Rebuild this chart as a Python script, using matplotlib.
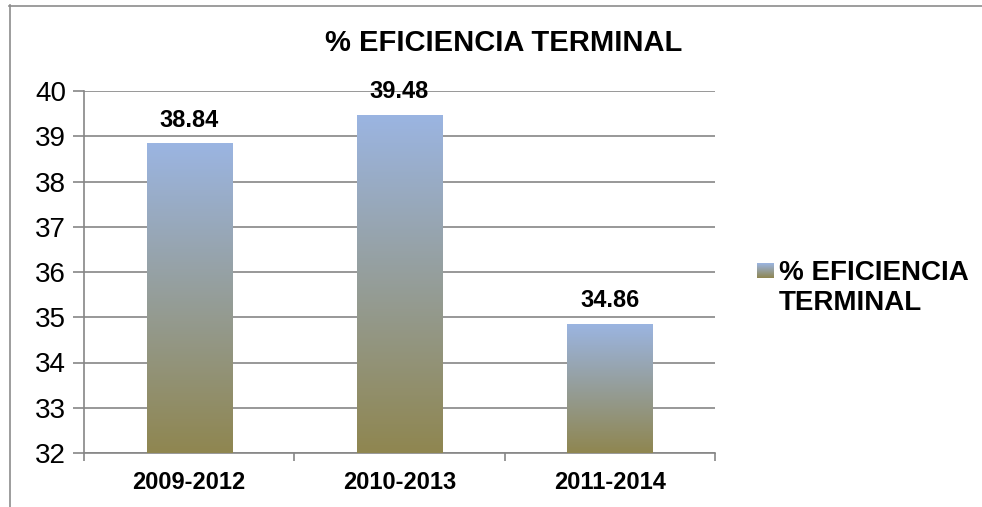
import numpy as np
import matplotlib
matplotlib.use('Agg')
from matplotlib import pyplot as plt
from matplotlib.colors import LinearSegmentedColormap

periodos = ['2009-2012', '2010-2013', '2011-2014']
eficiencia = [38.84, 39.48, 34.86]
serie = '% EFICIENCIA TERMINAL'
y_ticks = [32, 33, 34, 35, 36, 37, 38, 39, 40]

plt.rcParams['font.family'] = ['Liberation Sans', 'DejaVu Sans']

fig = plt.figure(figsize=(9.82, 5.07), dpi=100)
ax = fig.add_axes([84 / 982, 54 / 507, (715 - 84) / 982, (453 - 91) / 507])

# degradado azul arriba, oliva abajo
cmap = LinearSegmentedColormap.from_list('grad', ['#8f8650', '#9bb5e2'])
grad = np.linspace(0, 1, 256).reshape(-1, 1)

x = np.arange(len(periodos))
bars = ax.bar(x, [v - 32 for v in eficiencia], bottom=32, width=0.405,
              color='none', edgecolor='none', zorder=3)
for b, v in zip(bars, eficiencia):
    x0 = b.get_x()
    x1 = x0 + b.get_width()
    im = ax.imshow(grad, cmap=cmap, aspect='auto', origin='lower',
                   extent=[x0, x1, 32, v], zorder=3)
    im.set_clip_path(b)
    ax.annotate(f'{v:.2f}', (b.get_x() + b.get_width() / 2, v),
                xytext=(0, 8), textcoords='offset points', ha='center',
                va='bottom', fontsize=17, fontweight='bold', zorder=5)

ax.set_xlim(-0.5, 2.5)
ax.set_ylim(32, 40)
ax.set_yticks(y_ticks)
ax.set_yticklabels([str(t) for t in y_ticks], fontsize=20)
ax.set_xticks(x)
ax.set_xticklabels(periodos, fontsize=17, fontweight='bold')
ax.set_xticks([-0.5, 0.5, 1.5, 2.5], minor=True)
ax.tick_params(axis='x', which='major', length=0, pad=13)
ax.tick_params(axis='x', which='minor', length=6, color='#868686', width=1.2)
ax.tick_params(axis='y', length=8, color='#868686', width=1.2, pad=5)
ax.grid(axis='y', color='#868686', linewidth=1.2, zorder=0)
ax.set_axisbelow(True)
for s in ['top', 'right']:
    ax.spines[s].set_visible(False)
for s in ['left', 'bottom']:
    ax.spines[s].set_color('#868686')
    ax.spines[s].set_linewidth(1.2)

fig.text(504 / 982, 1 - 43 / 507, serie, ha='center', va='center',
         fontsize=21, fontweight='bold')

# leyenda
leg_ax = fig.add_axes([757 / 982, 1 - 278 / 507, 17 / 982, 15 / 507])
leg_ax.imshow(grad, cmap=cmap, aspect='auto', origin='lower', extent=[0, 1, 0, 1])
leg_ax.set_axis_off()
fig.text(779 / 982, 1 - 288 / 507, '% EFICIENCIA\nTERMINAL', ha='left',
         va='center', fontsize=20, fontweight='bold', linespacing=1.15)

# marco
fig.add_artist(plt.Line2D([9.5 / 982, 9.5 / 982], [0, 1 - 5 / 507],
                          transform=fig.transFigure, color='#8c8c8c', lw=1.2))
fig.add_artist(plt.Line2D([9 / 982, 1], [1 - 5.5 / 507, 1 - 5.5 / 507],
                          transform=fig.transFigure, color='#8c8c8c', lw=1.2))

fig.savefig('out.png', dpi=100, facecolor='white')
